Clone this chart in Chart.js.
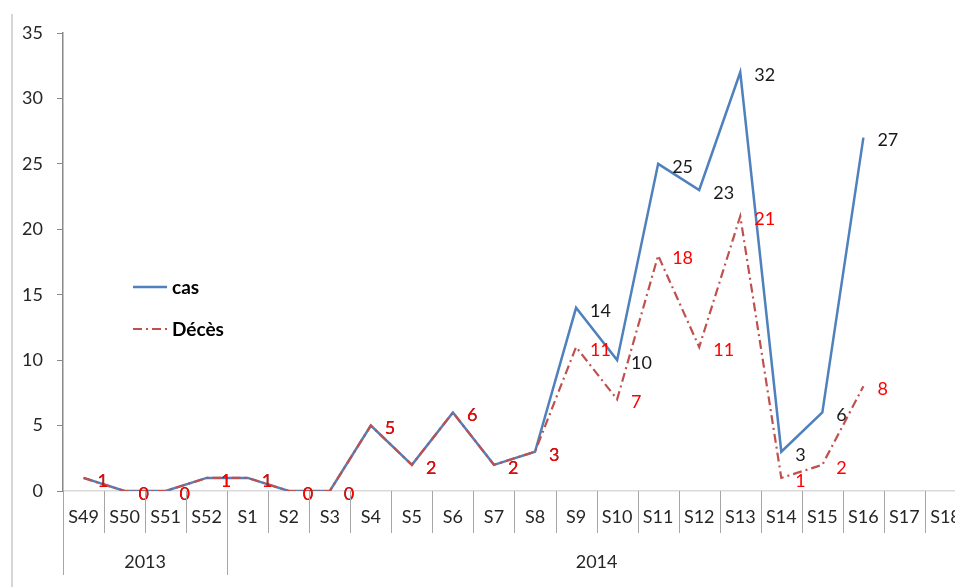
<!DOCTYPE html>
<html><head><meta charset="utf-8">
<script src="https://cdn.jsdelivr.net/npm/chart.js@4/dist/chart.umd.min.js"></script>
<style>
html,body{margin:0;padding:0;background:#fff;overflow:hidden;width:955px;height:587px}
#wrap{position:absolute;left:0;top:0;width:980px;height:587px}
</style></head>
<body><div id="wrap"><canvas id="c" width="980" height="587"></canvas></div>
<script>
const weeks = ['S49','S50','S51','S52','S1','S2','S3','S4','S5','S6','S7','S8','S9','S10','S11','S12','S13','S14','S15','S16','S17','S18'];
const years = ['2013','2013','2013','2013','2014','2014','2014','2014','2014','2014','2014','2014','2014','2014','2014','2014','2014','2014','2014','2014','2014','2014'];
const casValues   = [1,0,0,1,1,0,0,5,2,6,2,3,14,10,25,23,32,3,6,27,null,null];
const decesValues = [1,0,0,1,1,0,0,5,2,6,2,3,11,7,18,11,21,1,2,8,null,null];
const yMin = 0, yMax = 35, yStep = 5;

const FONT = 'Lato, "Noto Sans", sans-serif';
const TEXT = '#262626';
const BLUE = '#4F81BD';
const RED = '#C0504D';
const DASH = [9,4,2,4];
const labelColors = ['#1a1a1a', '#ff0000'];

const decor = {
  id: 'decor',
  beforeDraw(chart) {
    const ctx = chart.ctx;
    ctx.save();
    ctx.strokeStyle = '#c8c8c8'; ctx.lineWidth = 1.5;
    ctx.beginPath(); ctx.moveTo(12, 14); ctx.lineTo(12, 587); ctx.stroke();
    ctx.restore();
  },
  afterDatasetsDraw(chart) {
    const ctx = chart.ctx;
    ctx.save();
    ctx.font = '18px ' + FONT;
    ctx.textAlign = 'left'; ctx.textBaseline = 'middle';
    chart.data.datasets.forEach((ds, di) => {
      const meta = chart.getDatasetMeta(di);
      ctx.fillStyle = labelColors[di];
      meta.data.forEach((pt, i) => {
        const v = ds.data[i];
        if (v === null || v === undefined) return;
        ctx.fillText(String(v), pt.x + 14, pt.y + 3);
      });
    });
    ctx.restore();
  },
  afterDraw(chart) {
    const x = chart.scales.x, ctx = chart.ctx, bottom = chart.chartArea.bottom;
    const n = weeks.length;
    const w = x.getPixelForValue(1) - x.getPixelForValue(0);
    const left = x.getPixelForValue(0) - w / 2;
    ctx.save();
    ctx.strokeStyle = '#a6a6a6'; ctx.lineWidth = 1;
    for (let i = 0; i <= n; i++) {
      const px = Math.round(left + i * w) + 0.5;
      const isGroup = i === 0 || i === n || years[i] !== years[i - 1];
      ctx.beginPath(); ctx.moveTo(px, bottom); ctx.lineTo(px, isGroup ? 575 : 533); ctx.stroke();
    }
    ctx.font = '18px ' + FONT; ctx.fillStyle = TEXT;
    ctx.textAlign = 'center'; ctx.textBaseline = 'middle';
    let start = 0;
    for (let i = 1; i <= n; i++) {
      if (i === n || years[i] !== years[start]) {
        const cx = left + (start + i) / 2 * w;
        ctx.fillText(years[start], cx, 562);
        start = i;
      }
    }
    // legend
    const items = chart.data.datasets;
    const ys = [287, 329];
    items.forEach((ds, i) => {
      ctx.strokeStyle = ds.borderColor; ctx.lineWidth = ds.borderWidth;
      ctx.setLineDash(ds.borderDash || []);
      ctx.beginPath(); ctx.moveTo(133, ys[i]); ctx.lineTo(167, ys[i]); ctx.stroke();
      ctx.setLineDash([]);
      ctx.font = 'bold 19px ' + FONT; ctx.fillStyle = '#000';
      ctx.textAlign = 'left'; ctx.textBaseline = 'middle';
      ctx.fillText(ds.label, 172, ys[i] + 1);
    });
    ctx.restore();
  }
};

new Chart(document.getElementById('c'), {
  type: 'line',
  data: {
    labels: weeks,
    datasets: [
      { label: 'cas', data: casValues, borderColor: BLUE, borderWidth: 2.5, pointRadius: 0, tension: 0, order: 2, spanGaps: false },
      { label: 'Décès', data: decesValues, borderColor: RED, borderWidth: 2.2, borderDash: DASH, pointRadius: 0, tension: 0, order: 1, spanGaps: false }
    ]
  },
  options: {
    responsive: false,
    devicePixelRatio: 1,
    animation: false,
    layout: { padding: { left: 0, top: 33, right: 14, bottom: 0 } },
    plugins: { legend: { display: false }, tooltip: { enabled: false } },
    scales: {
      x: {
        type: 'category', offset: true,
        grid: { display: false, drawTicks: false },
        border: { display: true, color: '#d9d9d9', width: 1.5 },
        ticks: { font: { family: FONT, size: 18 }, color: TEXT, padding: 15, maxRotation: 0, autoSkip: false },
        afterFit(s) { s.height = 96; }
      },
      y: {
        min: yMin, max: yMax,
        grid: { drawOnChartArea: false, drawTicks: true, tickLength: 6, color: '#888' },
        border: { display: true, color: '#888', width: 1.5 },
        ticks: { stepSize: yStep, font: { family: FONT, size: 18 }, color: TEXT, padding: 14 },
        afterFit(s) { s.width = 63; }
      }
    }
  },
  plugins: [decor]
});
</script>
</body></html>
